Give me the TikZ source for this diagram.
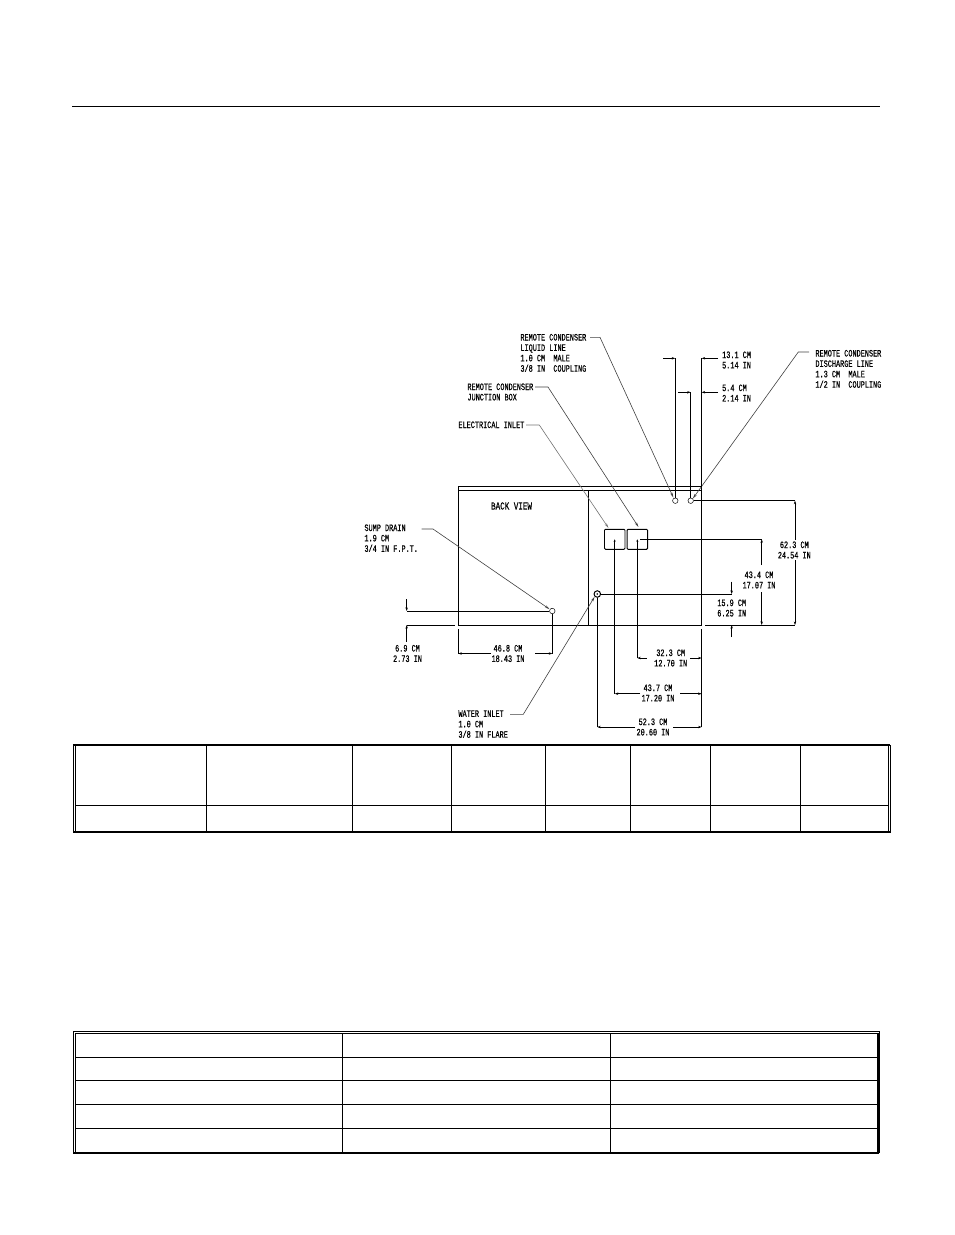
\documentclass[tikz,border=0pt]{standalone}
\usepackage{fontspec}
\newfontfamily\cadfont[FakeStretch=0.7,FakeBold=0.5]{Liberation Mono}
\usetikzlibrary{calc,positioning}
\usetikzlibrary{arrows.meta}
\tikzset{
cadtext/.style={font=\cadfont\fontsize{9.8}{10.4}\selectfont,align=left,inner sep=0pt},
cadmid/.style={cadtext,align=center},
dimline/.style={-{Stealth[length=3.5pt,width=2.4pt]},line width=0.9pt},
leader/.style={-{Stealth[length=5pt,width=2.4pt]},line width=0.6pt,black!75},
hole/.style={circle,draw,line width=0.5pt,minimum size=5.5pt,inner sep=0pt,fill=white},
termbox/.style={draw,line width=0.9pt,rounded corners=1pt,minimum width=20.5pt,minimum height=20pt,inner sep=0pt},
rule/.style={line width=0.9pt},
heavy/.style={line width=2pt}
}
\begin{document}
\begin{tikzpicture}[x=1pt,y=-1pt,line width=0.9pt]
\useasboundingbox(0,0)rectangle(954,1235);
\draw[rule](72,106.3)--(880,106.3);
% back view outline
\coordinate(tl) at (458.3,486.7);
\coordinate(tr) at (701.6,486.7);
\coordinate(il) at (458.3,490.8);
\coordinate(ir) at (701.6,490.8);
\coordinate(sl) at (588.3,490.8);
\coordinate(sb) at (588.3,625);
\coordinate(bl) at (458.3,625);
\coordinate(br) at (701.6,625);
\draw(bl)--(tl)--(tr)--(br)--(bl);
\draw(il)--(ir);\draw(sl)--(sb);
\node[cadtext,anchor=west,font=\cadfont\fontsize{10.8}{11}\selectfont](backview) at (490.7,506){BACK VIEW};
\node[hole](liquid) at (675.3,500.7){};
\node[hole](discharge) at (690.7,500.7){};
\node[hole](sump) at (552.3,611){};
\node[hole,line width=1pt,minimum size=6.5pt](water) at (597.3,594){};
\node[termbox](elec) at (614.7,539.3){};
\node[termbox](junc) at (637.3,539.3){};
\fill(water.center)circle(0.9pt);
% labels
\node[cadtext,anchor=north west](liquidtext) at (520,333.5){REMOTE CONDENSER\\LIQUID LINE\\1.0 CM~~MALE\\3/8 IN~~COUPLING};
\node[cadtext,anchor=north west](junctext) at (467,383){REMOTE CONDENSER\\JUNCTION BOX};
\node[cadtext,anchor=north west](electext) at (458,421){ELECTRICAL INLET};
\node[cadtext,anchor=north west](sumptext) at (364,524){SUMP DRAIN\\1.9 CM\\3/4 IN F.P.T.};
\node[cadtext,anchor=north west](watertext) at (458,710){WATER INLET\\1.0 CM\\3/8 IN FLARE};
\node[cadtext,anchor=north west](dischtext) at (815,349.5){REMOTE CONDENSER\\DISCHARGE LINE\\1.3 CM~~MALE\\1/2 IN~~COUPLING};
\node[cadtext,anchor=west](topa) at (721.7,360){13.1 CM\\5.14 IN};
\node[cadtext,anchor=west](topb) at (721.7,393){5.4 CM\\2.14 IN};
\node[cadmid](dima) at (794.3,550){62.3 CM\\24.54 IN};
\node[cadmid](dimb) at (759,580){43.4 CM\\17.07 IN};
\node[cadmid](dimc) at (731.7,608){15.9 CM\\6.25 IN};
\node[cadmid](dimd) at (670.7,658){32.3 CM\\12.70 IN};
\node[cadmid](dime) at (658,693){43.7 CM\\17.20 IN};
\node[cadmid](dimf) at (653,727){52.3 CM\\20.60 IN};
\node[cadmid](dimg) at (508,653.5){46.8 CM\\18.43 IN};
\node[cadmid](dimh) at (407.5,653.5){6.9 CM\\2.73 IN};
% leaders
\coordinate(la) at (590,337.3);\coordinate(lb) at (600,337.3);\coordinate(lc) at (673.4,497.6);
\coordinate(ja) at (535,387);\coordinate(jb) at (548,387);\coordinate(jc) at (638.5,527);
\coordinate(ea) at (526,425);\coordinate(eb) at (539.3,425);\coordinate(ec) at (608.5,528);
\coordinate(sa) at (421.7,529);\coordinate(sc) at (433,529);\coordinate(sd) at (549.6,609.2);
\coordinate(wa) at (510,714.3);\coordinate(wb) at (523.3,714.3);
\coordinate(da) at (809,352);\coordinate(db) at (798.3,352);
\draw[leader](la)--(lb)--(lc);
\draw[leader](ja)--(jb)--(jc);
\draw[leader,black!55](ea)--(eb)--(ec);
\draw[leader](sa)--(sc)--(sd);
\draw[leader](wa)--(wb)--(water.south west);
\draw[leader](da)--(db)--(discharge.north east);
% top dimensions
\coordinate(ta) at (675.3,358.3);\coordinate(tb) at (701.6,358.3);
\coordinate(tc) at (690.7,392.3);\coordinate(td) at (701.6,392.3);
\coordinate(te) at (663.3,358.3);\coordinate(tf) at (718,358.3);
\coordinate(tg) at (678.3,392.3);\coordinate(th) at (718,392.3);
\draw(liquid.north)--(ta);\draw(discharge.north)--(tc);\draw(tr)--(tb);
\draw[dimline](te)--(ta);\draw[dimline](tf)--(tb);
\draw[dimline](tg)--(tc);\draw[dimline](th)--(td);
% right dimensions
\coordinate(ra) at (795,500.7);\coordinate(rb) at (795,540);\coordinate(rc) at (795,560);\coordinate(rd) at (795,625);
\coordinate(re) at (761.7,539.3);\coordinate(rf) at (761.7,565);\coordinate(rg) at (761.7,592);\coordinate(rh) at (761.7,625);
\coordinate(ri) at (731.7,594);\coordinate(rj) at (731.7,581.7);\coordinate(rk) at (731.7,625);\coordinate(rl) at (731.7,637);
\coordinate(rm) at (705,625);\coordinate(rn) at (640,539.3);
\draw(discharge.east)--(ra);
\draw(rn)--(re);
\draw(water.east)--(ri);
\draw(rm)--(rd);
\draw[dimline](rb)--(ra);\draw[dimline](rc)--(rd);
\draw[dimline](rf)--(re);\draw[dimline](rg)--(rh);
\draw[dimline](rj)--(ri);\draw[dimline](rl)--(rk);
% bottom dimensions
\coordinate(ba) at (701.6,629);\coordinate(bb) at (701.6,727);
\coordinate(bc) at (637.3,658);\coordinate(bd) at (646.7,658);\coordinate(be) at (690,658);\coordinate(bf) at (701.6,658);
\coordinate(bg) at (614.7,693.7);\coordinate(bh) at (640,693.7);\coordinate(bi) at (680,693.7);\coordinate(bj) at (701.6,693.7);
\coordinate(bk) at (597.3,727);\coordinate(bm) at (635,727);\coordinate(bn) at (673,727);
\draw(ba)--(bb);
\draw[{Stealth[length=2.5pt,width=2pt]}-](junc.center)--(bc);
\draw[{Stealth[length=2.5pt,width=2pt]}-](elec.center)--(bg);
\draw(water.south)--(bk);
\draw[dimline](bd)--(bc);\draw[dimline](be)--(bf);
\draw[dimline](bh)--(bg);\draw[dimline](bi)--(bj);
\draw[dimline](bm)--(bk);\draw[dimline](bn)--(bb);
% left dimensions
\coordinate(ca) at (406.7,611);\coordinate(cb) at (406.7,599);
\coordinate(cc) at (406.7,625);\coordinate(cd) at (406.7,641.7);\coordinate(ce) at (455,625);
\coordinate(cf) at (458.3,629);\coordinate(cg) at (458.3,653.5);\coordinate(ch) at (491,653.5);
\coordinate(ci) at (535,653.5);\coordinate(cj) at (552.3,653.5);
\draw(sump.west)--(ca);\draw(cc)--(ce);
\draw[dimline](cb)--(ca);\draw[dimline](cd)--(cc);
\draw(cf)--(cg);\draw(sump.south)--(cj);
\draw[dimline](ch)--(cg);\draw[dimline](ci)--(cj);
% upper table
\draw[rule](73.3,744.7)--(73.3,832)--(890.3,832)--(890.3,744.7);
\draw[rule](75.3,744.7)--(75.3,832);\draw[rule](888.3,744.7)--(888.3,832);
\draw[heavy](73.3,745)--(890.3,745);\draw[heavy](73.3,831.7)--(890.3,831.7);
\draw[rule](75.3,805.3)--(888.3,805.3);
\draw[rule](206.3,745)--(206.3,832);\draw[rule](352.3,745)--(352.3,832);
\draw[rule](451.3,745)--(451.3,832);\draw[rule](545.3,745)--(545.3,832);
\draw[rule](630.3,745)--(630.3,832);\draw[rule](710.3,745)--(710.3,832);
\draw[rule](800.7,745)--(800.7,832);
% lower table
\draw[rule](73.3,1152.7)--(73.3,1031.3)--(879,1031.3)--(879,1152.7);
\draw[rule](75.3,1033.3)--(878.3,1033.3);\draw[rule](75.3,1033.3)--(75.3,1152.7);
\draw[heavy](878.3,1033)--(878.3,1153);\draw[heavy](73.3,1152.7)--(879,1152.7);
\draw[rule](75.3,1057.3)--(878.3,1057.3);\draw[rule](75.3,1080.3)--(878.3,1080.3);
\draw[rule](75.3,1104.3)--(878.3,1104.3);\draw[rule](75.3,1128.3)--(878.3,1128.3);
\draw[rule](342.3,1033.3)--(342.3,1152.7);\draw[rule](610.3,1033.3)--(610.3,1152.7);
\end{tikzpicture}
\end{document}
